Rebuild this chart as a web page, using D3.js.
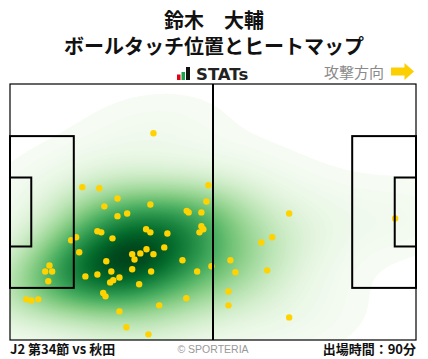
<!DOCTYPE html>
<html><head><meta charset="utf-8">
<script src="https://cdn.jsdelivr.net/npm/d3@7"></script>
<style>
html,body{margin:0;padding:0;background:#fff;}
svg{display:block;}
</style></head>
<body>
<svg id="chart" width="428" height="359"></svg>
<script>
// ---- data (pitch metres, 105 x 68, attack to the right) ----
const titleLines = ["鈴木　大輔", "ボールタッチ位置とヒートマップ"];
const matchLabel = "J2 第34節 vs 秋田";
const minutesLabel = "出場時間：90分";
const creditLabel = "© SPORTERIA";
const directionLabel = "攻撃方向";
const brandLabel = "STATs";

const touchX = [37.1,18.7,23.1,27.8,24.4,36.3,27.8,30.3,45.7,46.2,49.5,50.8,51.3,17.1,15.8,22.6,23.6,26.5,35.2,36.3,
  40.7,49.5,50.0,49.0,17.9,24.9,31.6,32.2,33.7,35.3,37.1,39.9,44.6,10.2,9.1,10.9,9.9,22.6,19.5,26.2,
  31.6,36.5,28.3,26.7,25.9,33.4,48.4,52.1,24.1,24.7,4.2,5.5,7.3,45.6,38.6,28.3,30.1,35.8,72.2,67.8,
  65.0,57.0,58.3,66.5,56.5,56.5,72.2,99.6];
const touchY = [13.1,27.4,27.7,30.4,32.5,32.0,35.1,34.4,33.7,34.1,34.1,31.2,26.9,40.7,41.5,39.1,39.4,41.0,38.6,39.4,
  39.7,37.8,38.6,39.4,44.7,47.1,45.2,46.6,45.0,43.9,45.2,43.4,46.8,48.2,49.8,49.8,52.4,50.6,51.1,49.8,
  49.2,49.8,51.4,52.1,52.7,53.2,49.8,48.4,55.5,56.4,57.2,57.5,57.2,56.9,58.8,60.4,64.6,66.5,34.4,40.7,
  42.1,46.8,50.0,49.5,55.1,58.8,62.0,35.7];

// pitch geometry (metres)
const PITCH = [105, 68];
const boxes = [ // [x0, y0, x1, y1]
  [0, 13.84, 16.5, 54.16], [0, 24.84, 5.5, 43.16],
  [88.5, 13.84, 105, 54.16], [99.5, 24.84, 105, 43.16]
];
const BW_ADJUST = 1.4;
const THRESH = 0.005;

const svg = d3.select("#chart");
const x = d3.scaleLinear().domain([0, PITCH[0]]).range([10, 416]);
const y = d3.scaleLinear().domain([0, PITCH[1]]).range([84, 340]);

// ---- KDE (gaussian, Scott bandwidth, full covariance) ----
const n = touchX.length;
const mx = d3.mean(touchX), my = d3.mean(touchY);
let sxx = 0, syy = 0, sxy = 0;
for (let i = 0; i < n; i++) {
  const dx = touchX[i] - mx, dy = touchY[i] - my;
  sxx += dx * dx; syy += dy * dy; sxy += dx * dy;
}
sxx /= (n - 1); syy /= (n - 1); sxy /= (n - 1);
const f2 = Math.pow(n, -1 / 3) * BW_ADJUST * BW_ADJUST;
const cxx = sxx * f2, cyy = syy * f2, cxy = sxy * f2;
const det = cxx * cyy - cxy * cxy;
const ixx = cyy / det, iyy = cxx / det, ixy = -cxy / det;

const nx = 210, ny = 136;
const grid = new Float64Array(nx * ny);
for (let j = 0; j < ny; j++) {
  const gy = (j + 0.5) * PITCH[1] / ny;
  for (let i = 0; i < nx; i++) {
    const gx = (i + 0.5) * PITCH[0] / nx;
    let s = 0;
    for (let k = 0; k < n; k++) {
      const dx = gx - touchX[k], dy = gy - touchY[k];
      s += Math.exp(-0.5 * (dx * (ixx * dx + ixy * dy) + dy * (ixy * dx + iyy * dy)));
    }
    grid[i + j * nx] = s;
  }
}
// iso-proportion levels (seaborn style)
const sorted = Array.from(grid).sort((a, b) => b - a);
const total = d3.sum(sorted);
const cum = []; let acc = 0;
for (const v of sorted) { acc += v; cum.push(acc / total); }
function levelFor(q) {
  const idx = d3.bisectLeft(cum, 1 - q);
  return sorted[Math.min(idx, sorted.length - 1)];
}
const NLEV = 100;
const levels = d3.range(NLEV).map(i => levelFor(THRESH + (1 - THRESH) * i / (NLEV - 1)));
const lmin = levels[0], lmax = levels[levels.length - 1];
const color = d3.scaleSequential(d3.interpolateGreens).domain([lmin, lmax]);

const contours = d3.contours().size([nx, ny]).thresholds(levels)(grid);
const proj = d3.geoTransform({
  point(px, py) { this.stream.point(x(px * PITCH[0] / nx), y(py * PITCH[1] / ny)); }
});
const path = d3.geoPath(proj);
svg.append("defs").append("clipPath").attr("id", "pc")
  .append("rect").attr("x", x(0)).attr("y", y(0)).attr("width", x(PITCH[0]) - x(0)).attr("height", y(PITCH[1]) - y(0));
svg.append("g").attr("clip-path", "url(#pc)")
  .selectAll("path").data(contours).join("path")
  .attr("d", path)
  .attr("fill", (d, i) => {
    const hi = i < levels.length - 1 ? levels[i + 1] : d.value;
    return color((d.value + hi) / 2);
  })
  .attr("stroke", "none");

// ---- touches ----
svg.append("g").selectAll("circle").data(d3.range(n)).join("circle")
  .attr("cx", i => x(touchX[i])).attr("cy", i => y(touchY[i]))
  .attr("r", 3.2).attr("fill", "#ffd200");

// ---- pitch lines ----
const lines = svg.append("g").attr("fill", "none").attr("stroke", "#000");
lines.append("rect").attr("x", x(0)).attr("y", y(0))
  .attr("width", x(PITCH[0]) - x(0)).attr("height", y(PITCH[1]) - y(0)).attr("stroke-width", 1.2);
lines.append("line").attr("x1", x(PITCH[0] / 2)).attr("x2", x(PITCH[0] / 2))
  .attr("y1", y(0)).attr("y2", y(PITCH[1])).attr("stroke-width", 2);
lines.selectAll("rect.box").data(boxes).join("rect").attr("class", "box")
  .attr("x", d => x(d[0])).attr("y", d => y(d[1]))
  .attr("width", d => x(d[2]) - x(d[0])).attr("height", d => y(d[3]) - y(d[1]))
  .attr("stroke-width", 2);

// ---- header ----
const cjk = "'Noto Sans CJK JP','Noto Sans',sans-serif";
svg.append("text").attr("x", 214).attr("y", 27.5).attr("text-anchor", "middle")
  .attr("font-family", cjk).attr("font-weight", 700).attr("font-size", 20).attr("fill", "#111").text(titleLines[0]);
svg.append("text").attr("x", 214).attr("y", 54).attr("text-anchor", "middle")
  .attr("font-family", cjk).attr("font-weight", 700).attr("font-size", 20).attr("fill", "#111").text(titleLines[1]);

// brand logo
const logo = svg.append("g");
logo.append("rect").attr("x", 177).attr("y", 74.5).attr("width", 3.5).attr("height", 5.5).attr("fill", "#e60012");
logo.append("rect").attr("x", 181.5).attr("y", 72).attr("width", 3.5).attr("height", 8).attr("fill", "#1aa34a");
logo.append("rect").attr("x", 186).attr("y", 67).attr("width", 4).attr("height", 13).attr("fill", "#111");
logo.append("text").attr("x", 196).attr("y", 80).attr("font-family", "'DejaVu Sans',sans-serif")
  .attr("font-weight", 700).attr("font-size", 16.5).attr("fill", "#222").text(brandLabel);

// direction
svg.append("text").attr("x", 384).attr("y", 78).attr("text-anchor", "end")
  .attr("font-family", cjk).attr("font-size", 15).attr("fill", "#8a8a8a").text(directionLabel);
svg.append("path")
  .attr("d", "M391,67.5 L404.5,67.5 L404.5,63 L414,71.5 L404.5,80 L404.5,75.5 L391,75.5 Z")
  .attr("fill", "#fcd000");

// ---- footer ----
svg.append("text").attr("x", 10).attr("y", 354).attr("font-family", cjk).attr("font-weight", 700)
  .attr("font-size", 13).attr("fill", "#111").text(matchLabel);
svg.append("text").attr("x", 416).attr("y", 354).attr("text-anchor", "end").attr("font-family", cjk).attr("font-weight", 700)
  .attr("font-size", 13).attr("fill", "#111").text(minutesLabel);
svg.append("text").attr("x", 213).attr("y", 353).attr("text-anchor", "middle").attr("font-family", "'Liberation Sans',Arial,sans-serif")
  .attr("font-size", 10.5).attr("fill", "#999").text(creditLabel);
</script>
</body></html>
